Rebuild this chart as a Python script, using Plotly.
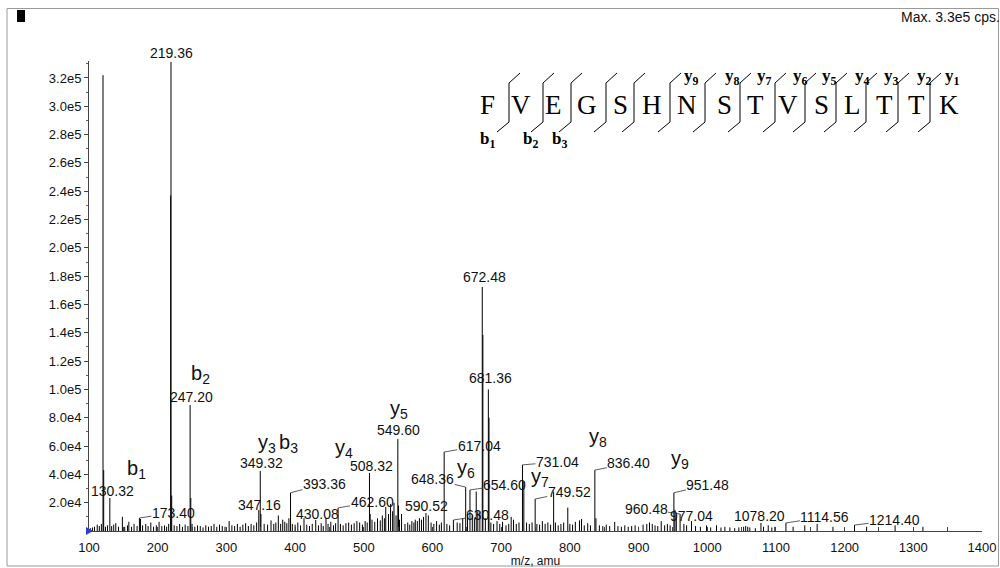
import plotly.graph_objects as go

# ---------------------------------------------------------------------------
# MS/MS fragment spectrum of FVEGSHNSTVSLTTK (m/z vs intensity, cps)
# ---------------------------------------------------------------------------
peak_mz = [120.4, 121.4, 130.32, 173.40, 218.9, 219.36, 220.4, 247.20, 248.2,
           347.16, 349.32, 350.3, 393.36, 430.08, 462.60, 508.32, 509.3,
           549.60, 550.6, 590.52, 617.04, 630.48, 648.36, 654.60, 663.7,
           672.48, 673.4, 681.36, 682.3, 731.04, 733.0, 749.52, 776.4, 797.0,
           836.40, 951.48, 960.48, 977.04, 1078.20, 1114.56, 1214.40]
peak_int = [3.22e5, 4.3e4, 2.33e4, 9.2e3, 2.37e5, 3.314e5, 2.5e4, 8.9e4, 2.33e4,
            1.48e4, 4.24e4, 1.2e4, 2.7e4, 7.8e3, 1.63e4, 4.1e4, 1.2e4,
            6.5e4, 1.8e4, 1.27e4, 5.58e4, 7.8e3, 3.1e4, 2.9e4, 2.78e4,
            1.724e5, 1.385e5, 1.0e5, 8.0e4, 4.67e4, 3.5e4, 2.26e4, 2.78e4, 1.65e4,
            4.3e4, 2.7e4, 1.2e4, 7.0e3, 5.7e3, 5.7e3, 4.2e3]

# low-level background peaks
noise_mz = [102, 105, 108, 112, 115, 118, 124, 127, 133, 136, 139, 143, 148.6,
            152, 156, 158, 162, 165.6, 170, 175, 178, 182.6, 186, 190, 194, 198,
            202, 206, 210, 213, 216, 224, 228, 232, 236, 240, 244, 250, 254, 258,
            262, 266, 270, 274, 278, 282, 286, 290, 294, 298, 304, 308, 312, 316,
            320, 324, 328, 332, 336, 340, 344, 355, 360, 365, 369, 372, 375.6,
            379, 382, 385, 388, 391, 396, 400, 404, 408, 413, 417, 421, 425, 434,
            438, 441, 445, 448, 452, 456, 459, 466, 470, 474, 478, 482, 486, 490,
            494, 498, 502, 505, 512, 516, 520, 524, 527, 530, 532, 536, 539, 542,
            544, 547, 552, 555, 560, 564, 567, 570, 573, 575, 578, 581, 584, 587,
            594, 598, 602, 606, 610, 613, 621, 625, 636, 640, 644, 651, 658, 661,
            666, 669, 677, 685, 689, 694, 698, 702, 707, 711, 714.6, 718, 722,
            726, 737, 741, 745, 752, 756, 760, 764, 768, 772, 779, 783, 787, 791,
            800, 804, 808, 814, 817, 821, 826, 830, 838, 843, 848, 853, 858,
            865.3, 870, 875, 880, 885, 890, 895, 900, 906.6, 912, 916, 920, 924,
            928, 933, 938, 942, 946, 953, 955, 966, 970, 983, 990, 999, 1005,
            1013.5, 1020, 1025.7, 1033, 1040, 1046, 1053, 1056, 1059, 1062, 1070,
            1082, 1088.8, 1094, 1098.5, 1125, 1142, 1160, 1183, 1232, 1273.5,
            1314]
noise_int = [2000, 2500, 3000, 4500, 3500, 5000, 3000, 4000, 3500, 4500, 5500,
             3000, 10000, 3000, 4000, 6500, 3000, 5000, 3500, 8500, 4000, 5000,
             3500, 6000, 3000, 4000, 6500, 3500, 4000, 3000, 5000, 4000, 3500,
             5000, 3000, 4500, 3500, 5000, 3000, 4000, 3500, 2500, 4000, 3000,
             3500, 5000, 3000, 4500, 3500, 3000, 7000, 4000, 3500, 5000, 3000,
             4500, 5500, 3500, 5000, 4000, 6000, 5000, 4500, 7500, 5000, 6000,
             11000, 5000, 8000, 6500, 5500, 9000, 5000, 4500, 6000, 4000, 9000,
             4500, 3500, 5000, 4000, 5500, 3500, 9000, 5000, 6500, 4000, 5500,
             5000, 4000, 5500, 6000, 4500, 5500, 7000, 6000, 4500, 7000, 6000,
             8000, 6500, 9000, 7500, 11000, 9000, 17000, 12000, 19000, 14000,
             20000, 11000, 8000, 12000, 5000, 6000, 4500, 7000, 6000, 8000, 7000,
             9000, 8000, 10000, 11000, 6000, 5000, 7000, 4500, 6000, 5000, 4000,
             6000, 5500, 9000, 12000, 11000, 9000, 14000, 13000, 9000, 6000,
             5000, 7000, 5000, 6500, 4000, 5000, 10000, 8000, 5000, 6000, 6000,
             5000, 6000, 5000, 4500, 7000, 5000, 6000, 4500, 6000, 4000, 5000,
             6000, 5000, 4500, 6500, 7500, 8500, 4000, 5500, 4000, 9000, 4000,
             3500, 4500, 3500, 6500, 3500, 3000, 4000, 3000, 3500, 4000, 3000,
             4500, 5000, 6000, 5000, 4000, 3500, 7000, 4000, 5000, 4000, 15000,
             10000, 5000, 4000, 3500, 3000, 4000, 2500, 4000, 2500, 3000, 2500,
             2000, 2500, 3000, 3500, 3000, 2500, 2000, 3000, 4000, 2500, 3000,
             3000, 4000, 5000, 3000, 3000, 4000, 3000]

# peaks annotated with their m/z value
label_mz = [130.32, 173.40, 219.36, 247.20, 347.16, 349.32, 393.36, 430.08,
            462.60, 508.32, 549.60, 590.52, 617.04, 630.48, 648.36, 654.60,
            672.48, 681.36, 731.04, 749.52, 836.40, 951.48, 960.48, 977.04,
            1078.20, 1114.56, 1214.40]

# fragment ion assignments placed over the spectrum (name, subscript)
ion_names = ["b", "b", "y", "b", "y", "y", "y", "y", "y", "y"]
ion_index = ["1", "2", "3", "3", "4", "5", "6", "7", "8", "9"]

# axis ticks
x_ticks = [100, 200, 300, 400, 500, 600, 700, 800, 900, 1000, 1100, 1200, 1300, 1400]
y_ticks = [2e4, 4e4, 6e4, 8e4, 1e5, 1.2e5, 1.4e5, 1.6e5, 1.8e5, 2e5, 2.2e5,
           2.4e5, 2.6e5, 2.8e5, 3e5, 3.2e5]
y_tick_text = ["2.0e4", "4.0e4", "6.0e4", "8.0e4", "1.0e5", "1.2e5", "1.4e5",
               "1.6e5", "1.8e5", "2.0e5", "2.2e5", "2.4e5", "2.6e5", "2.8e5",
               "3.0e5", "3.2e5"]

sequence = "FVEGSHNSTVSLTTK"

# ---------------------------------------------------------------------------
# page geometry (pixels)
# ---------------------------------------------------------------------------
W, H = 1000, 568
ML, MR, MT, MB = 89, 18, 61, 37
PW, PH = W - ML - MR, H - MT - MB


def px(xp):
    return (xp - ML) / PW


def py(yp):
    return (H - MB - yp) / PH


FONT = "Arial, 'Liberation Sans', sans-serif"
SERIF = "'Times New Roman', 'Liberation Serif', serif"
INK = "#111111"

# ---------------------------------------------------------------------------
# stick spectrum
# ---------------------------------------------------------------------------
all_mz = noise_mz + peak_mz
all_int = noise_int + peak_int
xs, ys = [], []
for m, v in zip(all_mz, all_int):
    xs += [m, m, None]
    ys += [0, v, None]

fig = go.Figure()
fig.add_trace(go.Scatter(x=xs, y=ys, mode="lines",
                         line=dict(color="#000000", width=1),
                         hoverinfo="skip", showlegend=False))

annotations = []
shapes = []

# m/z labels: (dx, dy) offset of the label centre from the peak apex, leader flag
label_offsets = {
    "130.32": (3, -7, False), "173.40": (34, -5, True), "219.36": (1, -9, False),
    "247.20": (1, -8, False), "347.16": (1, -5, False), "349.32": (1, -8, False),
    "393.36": (34, -9, True), "430.08": (2, -6, False), "462.60": (34, -6, True),
    "508.32": (2, -7, False), "549.60": (1, -9, False), "590.52": (1, -7, False),
    "617.04": (35, -6, True), "630.48": (34, -5, True), "648.36": (-33, -8, True),
    "654.60": (35, -5, True), "672.48": (2, -10, False), "681.36": (2, -11, False),
    "731.04": (35, -3, True), "749.52": (34, -7, True), "836.40": (34, -7, True),
    "951.48": (34, -8, True), "960.48": (-34, -5, True), "977.04": (0, -5, False),
    "1078.20": (-1, -7, False), "1114.56": (39, -6, True), "1214.40": (40, -5, True),
}
intensity_of = dict(zip(peak_mz, peak_int))
for m in label_mz:
    txt = f"{m:.2f}"
    dx, dy, leader = label_offsets[txt]
    v = intensity_of[m]
    if leader:
        annotations.append(dict(x=m, y=v, xref="x", yref="y", text=txt,
                                showarrow=True, arrowhead=0, arrowwidth=0.8,
                                arrowcolor="#333333", ax=dx, ay=dy, standoff=0,
                                borderpad=0,
                                font=dict(family=FONT, size=14, color=INK)))
    else:
        annotations.append(dict(x=m, y=v, xref="x", yref="y", text=txt,
                                showarrow=False, xanchor="center", yanchor="middle",
                                xshift=dx, yshift=-dy,
                                font=dict(family=FONT, size=14, color=INK)))

# ion assignment labels (data coordinates)
ion_pos = [(169.2, 4.31e4), (263.0, 1.102e5), (358.7, 6.15e4), (390.4, 6.15e4),
           (471.2, 5.8e4), (550.6, 8.55e4), (648.1, 4.45e4), (756.6, 3.81e4),
           (841.0, 6.64e4), (960.4, 5.02e4)]
for name, idx, (xm, yv) in zip(ion_names, ion_index, ion_pos):
    annotations.append(dict(x=xm, y=yv, xref="x", yref="y",
                            text=f"{name}<sub>{idx}</sub>", showarrow=False,
                            xanchor="center", yanchor="middle",
                            font=dict(family=FONT, size=20, color=INK)))

# ---------------------------------------------------------------------------
# peptide sequence with fragmentation brackets
# ---------------------------------------------------------------------------
letter_x = [487, 521, 553, 587, 620, 652, 687, 724, 755, 788, 821, 852, 884, 916, 949]
sep_x = [509, 543, 571, 606, 634, 670, 705, 740, 775, 805, 836, 866, 898, 930]
for ch, lx in zip(sequence, letter_x):
    annotations.append(dict(x=px(lx), y=py(105), xref="paper", yref="paper",
                            text=ch, showarrow=False, xanchor="center",
                            yanchor="middle",
                            font=dict(family=SERIF, size=27, color="#000000")))
for sx in sep_x:
    path = (f"M {px(sx - 12)} {py(132)} L {px(sx)} {py(122)} "
            f"L {px(sx)} {py(83)} L {px(sx + 11)} {py(73)}")
    shapes.append(dict(type="path", path=path, xref="paper", yref="paper",
                       line=dict(color="#000000", width=1)))

b_label_x = [487, 530, 559]
for i, bx in enumerate(b_label_x):
    annotations.append(dict(x=px(bx), y=py(140), xref="paper", yref="paper",
                            text=f"<b>b</b><sub><b>{i + 1}</b></sub>",
                            showarrow=False, xanchor="center", yanchor="middle",
                            font=dict(family=SERIF, size=17, color="#000000")))
y_label_x = [691, 732, 764, 800, 829, 862, 891, 924, 952]
for i, yx in enumerate(y_label_x):
    annotations.append(dict(x=px(yx), y=py(77), xref="paper", yref="paper",
                            text=f"<b>y</b><sub><b>{9 - i}</b></sub>",
                            showarrow=False, xanchor="center", yanchor="middle",
                            font=dict(family=SERIF, size=17, color="#000000")))

# ---------------------------------------------------------------------------
# frame, header and small decorations
# ---------------------------------------------------------------------------
shapes.append(dict(type="rect", xref="paper", yref="paper",
                   x0=px(7), x1=px(998.5), y0=py(566), y1=py(8.5),
                   line=dict(color="#9a9a9a", width=1)))
shapes.append(dict(type="rect", xref="paper", yref="paper",
                   x0=px(17), x1=px(25), y0=py(22), y1=py(10),
                   fillcolor="#000000", line=dict(width=0)))
shapes.append(dict(type="path", xref="paper", yref="paper",
                   path=(f"M {px(86)} {py(527)} L {px(93)} {py(531)} "
                         f"L {px(86)} {py(535)} Z"),
                   fillcolor="#2a3fd0", line=dict(width=0)))
annotations.append(dict(x=px(1002), y=py(17), xref="paper", yref="paper",
                        text="Max. 3.3e5 cps.", showarrow=False,
                        xanchor="right", yanchor="middle",
                        font=dict(family=FONT, size=14, color=INK)))

fig.update_layout(
    width=W, height=H,
    margin=dict(l=ML, r=MR, t=MT, b=MB, pad=0, autoexpand=False),
    paper_bgcolor="white", plot_bgcolor="white",
    showlegend=False,
    annotations=annotations,
    shapes=shapes,
    font=dict(family=FONT, color=INK),
    xaxis=dict(range=[100, 1400], tickvals=x_ticks,
               ticktext=[str(t) for t in x_ticks], automargin=False,
               ticks="inside", ticklen=4, tickcolor="#444444",
               ticklabelstandoff=4,
               minor=dict(dtick=50, ticks="inside", ticklen=4, tickcolor="#444444"),
               showline=True, linecolor="#444444", linewidth=1,
               showgrid=False, zeroline=False,
               tickfont=dict(family=FONT, size=13, color=INK),
               title=dict(text="m/z, amu", standoff=0,
                          font=dict(family=FONT, size=12, color=INK))),
    yaxis=dict(range=[0, 3.32e5], tickvals=y_ticks, ticktext=y_tick_text,
               automargin=False,
               ticks="outside", ticklen=4, tickcolor="#444444",
               minor=dict(dtick=1e4, ticks="outside", ticklen=2, tickcolor="#666666"),
               showline=True, linecolor="#444444", linewidth=1,
               showgrid=False, zeroline=False,
               tickfont=dict(family=FONT, size=13, color=INK)),
)

fig.write_html("out.html")
